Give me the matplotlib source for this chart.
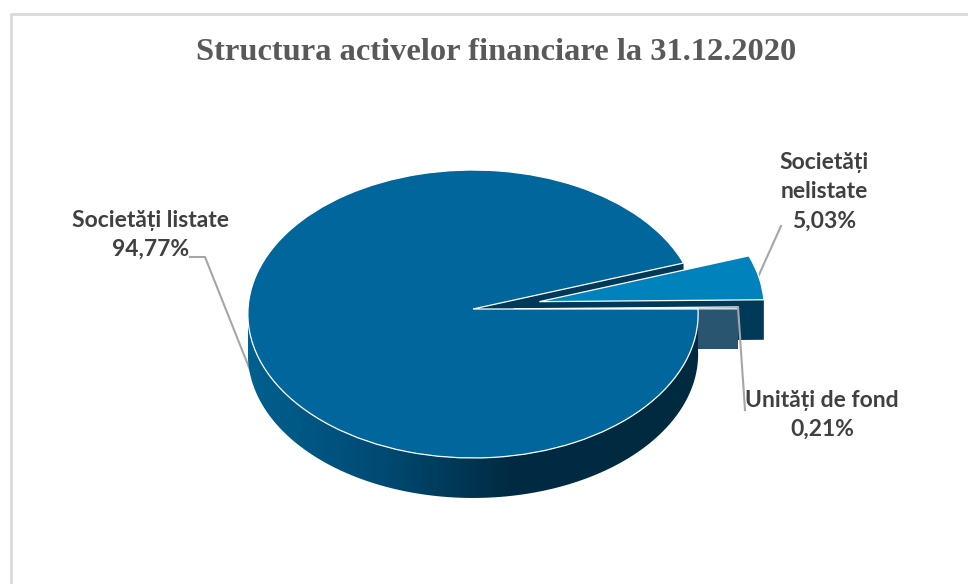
import numpy as np
import matplotlib
matplotlib.use("Agg")
import matplotlib.pyplot as plt
from matplotlib.colors import LinearSegmentedColormap
from matplotlib.patches import Polygon
from matplotlib.transforms import Transform

categories = ["Societăți listate", "Societăți\nnelistate", "Unități de fond"]
values = [94.77, 5.03, 0.21]
title = "Structura activelor financiare la 31.12.2020"

top_colors = ["#00669c", "#0082bd", "#2a5570"]
cut_colors = ["#003a58", "#003a58", "#2a5570"]
explode = [0, 0.3, 0.18]
depth = 40

# pie is drawn in unit coords, this tilts it onto the page (pixel coords)
class Tilt(Transform):
    input_dims = 2
    output_dims = 2

    def transform_non_affine(self, values):
        x, y = np.asarray(values).T
        w = 1 + 0.0347 * y
        return np.column_stack((473 + 225 * x / w, 309 - 143.8 * y / w))

tilt = Tilt()

def rim(wedge, a1, a2, n=200):
    t = np.radians(np.linspace(a1, a2, n))
    pts = np.column_stack((wedge.center[0] + wedge.r * np.cos(t),
                           wedge.center[1] + wedge.r * np.sin(t)))
    return tilt.transform_non_affine(pts)

def cut_face(wedge, angle):
    apex = tilt.transform_non_affine(np.array([wedge.center]))[0]
    edge = rim(wedge, angle, angle, 1)[0]
    return [apex, edge, edge + [0, depth], apex + [0, depth]]

fig, ax = plt.subplots(figsize=(9.68, 5.84), dpi=100)
fig.subplots_adjust(0, 0, 1, 1)

wedges, _ = ax.pie(values, startangle=0, counterclock=False, explode=explode,
                   colors=top_colors, wedgeprops=dict(edgecolor="white", linewidth=0.9))
ax.set_aspect("auto")
ax.set_frame_on(False)

main, unlisted, units = wedges
for w, z in zip(wedges, [7, 4, 6]):
    w.set_transform(tilt + ax.transData)
    w.set_zorder(z)

# cut faces, seen through the gap
ax.add_patch(Polygon(cut_face(main, main.theta1), color=cut_colors[0], lw=0, zorder=2))
ax.add_patch(Polygon(cut_face(unlisted, unlisted.theta1), color=cut_colors[1], lw=0, zorder=3))
ax.add_patch(Polygon(cut_face(units, units.theta1), color=cut_colors[2], lw=0, zorder=5))

# outer wall of the big slice with its gradient
front = rim(main, -180, 0)
wall = np.vstack((front, (front + [0, depth])[::-1]))
wall_cmap = LinearSegmentedColormap.from_list(
    "wall", [(0, "#00608f"), (0.3, "#004a73"), (0.58, "#002b42"), (1, "#002a40")])
img = ax.imshow(np.linspace(0, 1, 256)[None, :], cmap=wall_cmap, aspect="auto", zorder=6.5,
                extent=(front[:, 0].min(), front[:, 0].max(), 510, 320))
wall_patch = Polygon(wall, transform=ax.transData, facecolor="none", lw=0)
ax.add_patch(wall_patch)
img.set_clip_path(wall_patch)

ax.set_xlim(0, 968)
ax.set_ylim(584, 0)
ax.set_xticks([])
ax.set_yticks([])

# chart border runs off the right and bottom of the crop
ax.plot([11, 11, 980], [600, 13.5, 13.5], color="#d9d9d9", lw=2, zorder=1)

# leader lines
grey = "#a6a6a6"
ax.plot([190, 205, 252], [257, 257, 375], color=grey, lw=1.5, zorder=1.5)
ax.plot([781, 758], [226, 277], color=grey, lw=1.5, zorder=1.5)
ax.plot([738, 745], [307, 410], color=grey, lw=1.5, zorder=8)

ax.text(496, 53, title, family="Liberation Serif", weight="bold", size=23.4, color="#595959",
        ha="center", va="center")

label_font = dict(family="Lato", weight="bold", size=16.5, color="#404040",
                  ha="center", va="center", linespacing=1.48)
label_xy = [(151, 235), (824, 192), (822, 415)]
for name, val, (x, y) in zip(categories, values, label_xy):
    ax.text(x, y, f"{name}\n{val:.2f}%".replace(".", ","), **label_font)

fig.savefig("out.png", dpi=100)
